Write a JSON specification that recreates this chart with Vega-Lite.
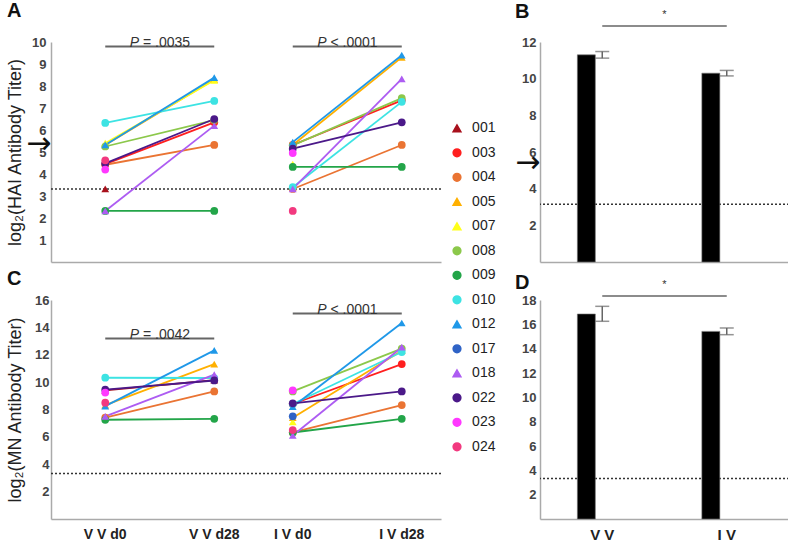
{
 "$schema": "https://vega.github.io/schema/vega-lite/v6.json",
 "padding": {"left": 6, "top": 0, "right": 0, "bottom": 0},
 "background": "white",
 "config": {
  "view": {"stroke": null},
  "font": "Liberation Sans",
  "axis": {"domainColor": "#aaaaaa", "domainWidth": 1.5, "ticks": false, "grid": false, "labelFontSize": 13, "labelFontWeight": "bold", "labelColor": "#444444", "titleFontWeight": "normal", "titleFontSize": 18, "titleColor": "#222222", "labelOverlap": false},
  "title": {"fontSize": 20, "fontWeight": "bold", "anchor": "start", "frame": "group", "color": "#111111"}
 },
 "datasets": {
  "obs": [
   {"assay":"HAI","group":"V V","day":"d0","subject":"001","value":3.32},
   {"assay":"HAI","group":"V V","day":"d0","subject":"003","value":4.45},
   {"assay":"HAI","group":"V V","day":"d28","subject":"003","value":6.35},
   {"assay":"HAI","group":"V V","day":"d0","subject":"004","value":4.42},
   {"assay":"HAI","group":"V V","day":"d28","subject":"004","value":5.32},
   {"assay":"HAI","group":"V V","day":"d0","subject":"005","value":5.32},
   {"assay":"HAI","group":"V V","day":"d28","subject":"005","value":8.3},
   {"assay":"HAI","group":"V V","day":"d0","subject":"007","value":5.4},
   {"assay":"HAI","group":"V V","day":"d28","subject":"007","value":8.26},
   {"assay":"HAI","group":"V V","day":"d0","subject":"008","value":5.25},
   {"assay":"HAI","group":"V V","day":"d28","subject":"008","value":6.45},
   {"assay":"HAI","group":"V V","day":"d0","subject":"009","value":2.32},
   {"assay":"HAI","group":"V V","day":"d28","subject":"009","value":2.32},
   {"assay":"HAI","group":"V V","day":"d0","subject":"010","value":6.32},
   {"assay":"HAI","group":"V V","day":"d28","subject":"010","value":7.32},
   {"assay":"HAI","group":"V V","day":"d0","subject":"012","value":5.32},
   {"assay":"HAI","group":"V V","day":"d28","subject":"012","value":8.38},
   {"assay":"HAI","group":"V V","day":"d0","subject":"018","value":2.32},
   {"assay":"HAI","group":"V V","day":"d28","subject":"018","value":6.2},
   {"assay":"HAI","group":"V V","day":"d0","subject":"022","value":4.48},
   {"assay":"HAI","group":"V V","day":"d28","subject":"022","value":6.5},
   {"assay":"HAI","group":"V V","day":"d0","subject":"023","value":4.2},
   {"assay":"HAI","group":"V V","day":"d0","subject":"024","value":4.62},
   {"assay":"HAI","group":"I V","day":"d0","subject":"003","value":5.32},
   {"assay":"HAI","group":"I V","day":"d28","subject":"003","value":7.35},
   {"assay":"HAI","group":"I V","day":"d0","subject":"004","value":3.32},
   {"assay":"HAI","group":"I V","day":"d28","subject":"004","value":5.32},
   {"assay":"HAI","group":"I V","day":"d0","subject":"005","value":5.32},
   {"assay":"HAI","group":"I V","day":"d28","subject":"005","value":9.3},
   {"assay":"HAI","group":"I V","day":"d0","subject":"007","value":4.45},
   {"assay":"HAI","group":"I V","day":"d0","subject":"008","value":5.3},
   {"assay":"HAI","group":"I V","day":"d28","subject":"008","value":7.45},
   {"assay":"HAI","group":"I V","day":"d0","subject":"009","value":4.32},
   {"assay":"HAI","group":"I V","day":"d28","subject":"009","value":4.32},
   {"assay":"HAI","group":"I V","day":"d0","subject":"010","value":3.4},
   {"assay":"HAI","group":"I V","day":"d28","subject":"010","value":7.28},
   {"assay":"HAI","group":"I V","day":"d0","subject":"012","value":5.45},
   {"assay":"HAI","group":"I V","day":"d28","subject":"012","value":9.4},
   {"assay":"HAI","group":"I V","day":"d0","subject":"018","value":3.32},
   {"assay":"HAI","group":"I V","day":"d28","subject":"018","value":8.32},
   {"assay":"HAI","group":"I V","day":"d0","subject":"022","value":5.15},
   {"assay":"HAI","group":"I V","day":"d28","subject":"022","value":6.35},
   {"assay":"HAI","group":"I V","day":"d0","subject":"023","value":4.95},
   {"assay":"HAI","group":"I V","day":"d0","subject":"024","value":2.32},
   {"assay":"MN","group":"V V","day":"d0","subject":"001","value":9.4},
   {"assay":"MN","group":"V V","day":"d28","subject":"001","value":10.15},
   {"assay":"MN","group":"V V","day":"d0","subject":"004","value":7.4},
   {"assay":"MN","group":"V V","day":"d28","subject":"004","value":9.32},
   {"assay":"MN","group":"V V","day":"d0","subject":"005","value":8.32},
   {"assay":"MN","group":"V V","day":"d28","subject":"005","value":11.32},
   {"assay":"MN","group":"V V","day":"d0","subject":"009","value":7.25},
   {"assay":"MN","group":"V V","day":"d28","subject":"009","value":7.32},
   {"assay":"MN","group":"V V","day":"d0","subject":"010","value":10.32},
   {"assay":"MN","group":"V V","day":"d28","subject":"010","value":10.3},
   {"assay":"MN","group":"V V","day":"d0","subject":"012","value":8.25},
   {"assay":"MN","group":"V V","day":"d28","subject":"012","value":12.32},
   {"assay":"MN","group":"V V","day":"d0","subject":"018","value":7.5},
   {"assay":"MN","group":"V V","day":"d28","subject":"018","value":10.55},
   {"assay":"MN","group":"V V","day":"d0","subject":"022","value":9.45},
   {"assay":"MN","group":"V V","day":"d28","subject":"022","value":10.12},
   {"assay":"MN","group":"V V","day":"d0","subject":"023","value":9.24},
   {"assay":"MN","group":"V V","day":"d0","subject":"024","value":8.5},
   {"assay":"MN","group":"I V","day":"d0","subject":"003","value":8.4},
   {"assay":"MN","group":"I V","day":"d28","subject":"003","value":11.32},
   {"assay":"MN","group":"I V","day":"d0","subject":"004","value":6.32},
   {"assay":"MN","group":"I V","day":"d28","subject":"004","value":8.32},
   {"assay":"MN","group":"I V","day":"d0","subject":"005","value":7.4},
   {"assay":"MN","group":"I V","day":"d28","subject":"005","value":12.3},
   {"assay":"MN","group":"I V","day":"d0","subject":"007","value":7.1},
   {"assay":"MN","group":"I V","day":"d0","subject":"008","value":9.32},
   {"assay":"MN","group":"I V","day":"d28","subject":"008","value":12.45},
   {"assay":"MN","group":"I V","day":"d0","subject":"009","value":6.32},
   {"assay":"MN","group":"I V","day":"d28","subject":"009","value":7.32},
   {"assay":"MN","group":"I V","day":"d0","subject":"010","value":8.4},
   {"assay":"MN","group":"I V","day":"d28","subject":"010","value":12.2},
   {"assay":"MN","group":"I V","day":"d0","subject":"012","value":8.2},
   {"assay":"MN","group":"I V","day":"d28","subject":"012","value":14.32},
   {"assay":"MN","group":"I V","day":"d0","subject":"017","value":7.5},
   {"assay":"MN","group":"I V","day":"d0","subject":"018","value":6.1},
   {"assay":"MN","group":"I V","day":"d28","subject":"018","value":12.55},
   {"assay":"MN","group":"I V","day":"d0","subject":"022","value":8.45},
   {"assay":"MN","group":"I V","day":"d28","subject":"022","value":9.32},
   {"assay":"MN","group":"I V","day":"d0","subject":"023","value":9.4},
   {"assay":"MN","group":"I V","day":"d0","subject":"024","value":6.5}
  ],
  "pairs": [{"group":"V V","day":"d0"},{"group":"V V","day":"d28"},{"group":"I V","day":"d0"},{"group":"I V","day":"d28"}],
  "ptxt": [
   {"panel":"A","group":"V V","rel":"= .0035"},
   {"panel":"A","group":"I V","rel":"< .0001"},
   {"panel":"C","group":"V V","rel":"= .0042"},
   {"panel":"C","group":"I V","rel":"< .0001"}
  ],
  "xlab": [
   {"group":"V V","day":"d0","label":"V V d0"},
   {"group":"V V","day":"d28","label":"V V d28"},
   {"group":"I V","day":"d0","label":"I V d0"},
   {"group":"I V","day":"d28","label":"I V d28"}
  ],
  "bars": [
   {"assay":"HAI","group":"V V","mean":11.3,"lo":11.12,"hi":11.48},
   {"assay":"HAI","group":"I V","mean":10.3,"lo":10.15,"hi":10.45},
   {"assay":"MN","group":"V V","mean":16.85,"lo":16.25,"hi":17.48},
   {"assay":"MN","group":"I V","mean":15.42,"lo":15.15,"hi":15.7}
  ]
 },
 "bounds": "flush",
 "columns": 2,
 "spacing": {"row": 38, "column": 99},
 "concat": [
  {"width": 390, "height": 220, "title": {"text": "A", "offset": 15, "dx": -44},
   "layer": [
    {"data": {"values": [{"ref": "LOD"}]}, "mark": {"type": "rule", "strokeDash": [2, 2], "strokeWidth": 1.5, "color": "#333333"}, "encoding": {"y": {"datum": 3.32}}},
    {"data": {"name": "obs"}, "transform": [{"filter": "datum.assay == 'HAI'"}],
     "mark": {"type": "line", "strokeWidth": 1.8},
     "encoding": {
      "x": {"field": "group", "type": "nominal", "sort": ["V V", "I V"], "scale": {"type": "band", "paddingInner": 0, "paddingOuter": 0.04, "align": 1}, "axis": {"labels": false, "title": null}},
      "xOffset": {"field": "day", "type": "nominal", "sort": ["d0", "d28"], "scale": {"type": "point", "padding": 0.36}},
      "y": {"field": "value", "type": "quantitative", "scale": {"domain": [0, 10]},
            "axis": {"values": [1, 2, 3, 4, 5, 5.4, 6, 7, 8, 9, 10], "tickCount": 30, "format": "d", "title": "log₂(HAI Antibody Titer)", "titlePadding": 0, "minExtent": 27, "maxExtent": 27, "labelOverlap": false,
                     "labelExpr": "datum.value == 5.4 ? '→' : datum.label",
                     "labelFont": {"condition": {"test": "datum.value == 5.4", "value": "DejaVu Sans"}, "value": "Liberation Sans"},
                     "labelFontSize": {"condition": {"test": "datum.value == 5.4", "value": 30}, "value": 13},
                     "labelFontWeight": {"condition": {"test": "datum.value == 5.4", "value": "normal"}, "value": "bold"},
                     "labelColor": {"condition": {"test": "datum.value == 5.4", "value": "#111111"}, "value": "#444444"},
                     "labelPadding": {"condition": {"test": "datum.value == 5.4", "value": 0}, "value": 5}}},
      "color": {"field": "subject", "type": "nominal",
                "scale": {"domain": ["001","003","004","005","007","008","009","010","012","017","018","022","023","024"], "range": ["#A8101C","#FF1F1F","#EA7433","#FFB000","#FFFF1A","#8CC84B","#23A549","#3DE3E3","#1F98E8","#2F63C6","#AD5CF2","#4B1989","#FF38FF","#F2397F"]},
                "legend": {"orient": "none", "legendX": 399, "legendY": 79.3, "title": null, "padding": 0, "labelFontSize": 14, "labelFontWeight": "normal", "labelColor": "#222222", "labelFont": "Liberation Sans", "rowPadding": 10.5, "symbolSize": 60, "labelOffset": 8.1, "symbolLimit": 0, "symbolOpacity": 1}},
      "detail": {"field": "group"}
     }},
    {"data": {"name": "obs"}, "transform": [{"filter": "datum.assay == 'HAI'"}],
     "mark": {"type": "point", "filled": true, "size": 60, "opacity": 1},
     "encoding": {
      "x": {"field": "group", "type": "nominal", "sort": ["V V", "I V"]},
      "xOffset": {"field": "day", "type": "nominal", "sort": ["d0", "d28"]},
      "y": {"field": "value", "type": "quantitative"},
      "color": {"field": "subject", "type": "nominal"},
      "shape": {"field": "subject", "type": "nominal", "scale": {"domain": ["001","003","004","005","007","008","009","010","012","017","018","022","023","024"], "range": ["triangle-up","circle","circle","triangle-up","triangle-up","circle","circle","circle","triangle-up","circle","triangle-up","circle","circle","circle"]}, "legend": null}
     }},
    {"data": {"name": "pairs"}, "mark": {"type": "line", "color": "#666666", "strokeWidth": 2},
     "encoding": {"x": {"field": "group", "type": "nominal", "sort": ["V V", "I V"]}, "xOffset": {"field": "day", "type": "nominal", "sort": ["d0", "d28"]}, "y": {"datum": 9.8}, "detail": {"field": "group"}}},
    {"data": {"name": "ptxt"}, "transform": [{"filter": "datum.panel == 'A'"}],
     "mark": {"type": "text", "text": "P", "fontStyle": "italic", "align": "left", "dx": -30, "fontSize": 14, "color": "#333333"},
     "encoding": {"x": {"field": "group", "type": "nominal", "sort": ["V V", "I V"]}, "y": {"datum": 9.97}}},
    {"data": {"name": "ptxt"}, "transform": [{"filter": "datum.panel == 'A'"}],
     "mark": {"type": "text", "align": "left", "dx": -16.8, "fontSize": 14, "color": "#333333"},
     "encoding": {"x": {"field": "group", "type": "nominal", "sort": ["V V", "I V"]}, "y": {"datum": 9.97}, "text": {"field": "rel"}}}
   ]},
  {"width": 249, "height": 220, "title": {"text": "B", "offset": -13, "dx": -25},
   "layer": [
    {"data": {"values": [{"ref": "LOD"}]}, "mark": {"type": "rule", "strokeDash": [2, 2], "strokeWidth": 1.5, "color": "#333333"}, "encoding": {"y": {"datum": 3.15}}},
    {"data": {"name": "bars"}, "transform": [{"filter": "datum.assay == 'HAI'"}],
     "mark": {"type": "bar", "color": "#000000", "stroke": "#777777", "strokeWidth": 0.6},
     "encoding": {
      "x": {"field": "group", "type": "nominal", "sort": ["V V", "I V"], "scale": {"type": "band", "paddingInner": 0.6, "paddingOuter": 0.3}, "axis": {"labels": false, "title": null}},
      "y": {"field": "mean", "type": "quantitative", "scale": {"domain": [0, 12]},
            "axis": {"values": [2, 4, 5.45, 6, 8, 10, 12], "tickCount": 30, "format": "d", "title": null, "labelOverlap": false,
                     "labelExpr": "datum.value == 5.45 ? '→' : datum.label",
                     "labelFont": {"condition": {"test": "datum.value == 5.45", "value": "DejaVu Sans"}, "value": "Liberation Sans"},
                     "labelFontSize": {"condition": {"test": "datum.value == 5.45", "value": 30}, "value": 13},
                     "labelFontWeight": {"condition": {"test": "datum.value == 5.45", "value": "normal"}, "value": "bold"},
                     "labelColor": {"condition": {"test": "datum.value == 5.45", "value": "#111111"}, "value": "#444444"},
                     "labelPadding": {"condition": {"test": "datum.value == 5.45", "value": 0}, "value": 4}}}
     }},
    {"data": {"name": "bars"}, "transform": [{"filter": "datum.assay == 'HAI'"}],
     "mark": {"type": "rule", "color": "#666666", "strokeWidth": 1.5},
     "encoding": {"x": {"field": "group", "type": "nominal", "sort": ["V V", "I V"]}, "y": {"field": "lo", "type": "quantitative", "title": null}, "y2": {"field": "hi"}}},
    {"data": {"name": "bars"}, "transform": [{"filter": "datum.assay == 'HAI'"}],
     "mark": {"type": "tick", "color": "#666666", "thickness": 1.5, "size": 14},
     "encoding": {"x": {"field": "group", "type": "nominal", "sort": ["V V", "I V"]}, "y": {"field": "lo", "type": "quantitative", "title": null}}},
    {"data": {"name": "bars"}, "transform": [{"filter": "datum.assay == 'HAI'"}],
     "mark": {"type": "tick", "color": "#666666", "thickness": 1.5, "size": 14},
     "encoding": {"x": {"field": "group", "type": "nominal", "sort": ["V V", "I V"]}, "y": {"field": "hi", "type": "quantitative", "title": null}}},
    {"data": {"name": "bars"}, "transform": [{"filter": "datum.assay == 'HAI'"}],
     "mark": {"type": "line", "color": "#666666", "strokeWidth": 1.5},
     "encoding": {"x": {"field": "group", "type": "nominal", "sort": ["V V", "I V"]}, "y": {"datum": 12.87}}},
    {"data": {"values": [{"sig": "*"}]},
     "mark": {"type": "text", "fontSize": 11, "color": "#333333", "baseline": "middle"},
     "encoding": {"y": {"datum": 13.45}, "text": {"field": "sig"}}}
   ]},
  {"width": 390, "height": 219, "title": {"text": "C", "offset": 5, "dx": -44},
   "layer": [
    {"data": {"values": [{"ref": "LOD"}]}, "mark": {"type": "rule", "strokeDash": [2, 2], "strokeWidth": 1.5, "color": "#333333"}, "encoding": {"y": {"datum": 3.32}}},
    {"data": {"name": "obs"}, "transform": [{"filter": "datum.assay == 'MN'"}],
     "mark": {"type": "line", "strokeWidth": 1.8},
     "encoding": {
      "x": {"field": "group", "type": "nominal", "sort": ["V V", "I V"], "scale": {"type": "band", "paddingInner": 0, "paddingOuter": 0.04, "align": 1}, "axis": {"labels": false, "title": null}},
      "xOffset": {"field": "day", "type": "nominal", "sort": ["d0", "d28"], "scale": {"type": "point", "padding": 0.36}},
      "y": {"field": "value", "type": "quantitative", "scale": {"domain": [0, 16]},
            "axis": {"values": [2, 4, 6, 8, 10, 12, 14, 16], "tickCount": 30, "format": "d", "title": "log₂(MN Antibody Titer)", "titlePadding": 0, "minExtent": 27, "maxExtent": 27, "labelOverlap": false}},
      "color": {"field": "subject", "type": "nominal"},
      "detail": {"field": "group"}
     }},
    {"data": {"name": "obs"}, "transform": [{"filter": "datum.assay == 'MN'"}],
     "mark": {"type": "point", "filled": true, "size": 60, "opacity": 1},
     "encoding": {
      "x": {"field": "group", "type": "nominal", "sort": ["V V", "I V"]},
      "xOffset": {"field": "day", "type": "nominal", "sort": ["d0", "d28"]},
      "y": {"field": "value", "type": "quantitative"},
      "color": {"field": "subject", "type": "nominal"},
      "shape": {"field": "subject", "type": "nominal", "legend": null}
     }},
    {"data": {"name": "pairs"}, "transform": [{"filter": "datum.group == 'V V'"}], "mark": {"type": "line", "color": "#666666", "strokeWidth": 2},
     "encoding": {"x": {"field": "group", "type": "nominal", "sort": ["V V", "I V"]}, "xOffset": {"field": "day", "type": "nominal", "sort": ["d0", "d28"]}, "y": {"datum": 13.19}, "detail": {"field": "group"}}},
    {"data": {"name": "pairs"}, "transform": [{"filter": "datum.group == 'I V'"}], "mark": {"type": "line", "color": "#666666", "strokeWidth": 2},
     "encoding": {"x": {"field": "group", "type": "nominal", "sort": ["V V", "I V"]}, "xOffset": {"field": "day", "type": "nominal", "sort": ["d0", "d28"]}, "y": {"datum": 15.02}, "detail": {"field": "group"}}},
    {"data": {"name": "ptxt"}, "transform": [{"filter": "datum.panel == 'C' && datum.group == 'V V'"}],
     "mark": {"type": "text", "text": "P", "fontStyle": "italic", "align": "left", "dx": -30, "fontSize": 14, "color": "#333333"},
     "encoding": {"x": {"field": "group", "type": "nominal", "sort": ["V V", "I V"]}, "y": {"datum": 13.44}}},
    {"data": {"name": "ptxt"}, "transform": [{"filter": "datum.panel == 'C' && datum.group == 'V V'"}],
     "mark": {"type": "text", "align": "left", "dx": -16.8, "fontSize": 14, "color": "#333333"},
     "encoding": {"x": {"field": "group", "type": "nominal", "sort": ["V V", "I V"]}, "y": {"datum": 13.44}, "text": {"field": "rel"}}},
    {"data": {"name": "ptxt"}, "transform": [{"filter": "datum.panel == 'C' && datum.group == 'I V'"}],
     "mark": {"type": "text", "text": "P", "fontStyle": "italic", "align": "left", "dx": -30, "fontSize": 14, "color": "#333333"},
     "encoding": {"x": {"field": "group", "type": "nominal", "sort": ["V V", "I V"]}, "y": {"datum": 15.27}}},
    {"data": {"name": "ptxt"}, "transform": [{"filter": "datum.panel == 'C' && datum.group == 'I V'"}],
     "mark": {"type": "text", "align": "left", "dx": -16.8, "fontSize": 14, "color": "#333333"},
     "encoding": {"x": {"field": "group", "type": "nominal", "sort": ["V V", "I V"]}, "y": {"datum": 15.27}, "text": {"field": "rel"}}},
    {"data": {"name": "xlab"},
     "mark": {"type": "text", "fontSize": 14, "fontWeight": "bold", "color": "#222222", "baseline": "middle"},
     "encoding": {"x": {"field": "group", "type": "nominal", "sort": ["V V", "I V"]}, "xOffset": {"field": "day", "type": "nominal", "sort": ["d0", "d28"]}, "y": {"datum": -1.17}, "text": {"field": "label"}}}
   ]},
  {"width": 249, "height": 219, "title": {"text": "D", "offset": -14, "dx": -25},
   "layer": [
    {"data": {"values": [{"ref": "LOD"}]}, "mark": {"type": "rule", "strokeDash": [2, 2], "strokeWidth": 1.5, "color": "#333333"}, "encoding": {"y": {"datum": 3.32}}},
    {"data": {"name": "bars"}, "transform": [{"filter": "datum.assay == 'MN'"}],
     "mark": {"type": "bar", "color": "#000000", "stroke": "#777777", "strokeWidth": 0.6},
     "encoding": {
      "x": {"field": "group", "type": "nominal", "sort": ["V V", "I V"], "scale": {"type": "band", "paddingInner": 0.6, "paddingOuter": 0.3}, "axis": {"title": null, "labelAngle": 0, "labelFontSize": 15, "labelColor": "#222222", "labelPadding": 8}},
      "y": {"field": "mean", "type": "quantitative", "scale": {"domain": [0, 18]},
            "axis": {"values": [2, 4, 6, 8, 10, 12, 14, 16, 18], "tickCount": 30, "format": "d", "title": null, "labelPadding": 4, "labelOverlap": false}}
     }},
    {"data": {"name": "bars"}, "transform": [{"filter": "datum.assay == 'MN'"}],
     "mark": {"type": "rule", "color": "#666666", "strokeWidth": 1.5},
     "encoding": {"x": {"field": "group", "type": "nominal", "sort": ["V V", "I V"]}, "y": {"field": "lo", "type": "quantitative", "title": null}, "y2": {"field": "hi"}}},
    {"data": {"name": "bars"}, "transform": [{"filter": "datum.assay == 'MN'"}],
     "mark": {"type": "tick", "color": "#666666", "thickness": 1.5, "size": 14},
     "encoding": {"x": {"field": "group", "type": "nominal", "sort": ["V V", "I V"]}, "y": {"field": "lo", "type": "quantitative", "title": null}}},
    {"data": {"name": "bars"}, "transform": [{"filter": "datum.assay == 'MN'"}],
     "mark": {"type": "tick", "color": "#666666", "thickness": 1.5, "size": 14},
     "encoding": {"x": {"field": "group", "type": "nominal", "sort": ["V V", "I V"]}, "y": {"field": "hi", "type": "quantitative", "title": null}}},
    {"data": {"name": "bars"}, "transform": [{"filter": "datum.assay == 'MN'"}],
     "mark": {"type": "line", "color": "#666666", "strokeWidth": 1.5},
     "encoding": {"x": {"field": "group", "type": "nominal", "sort": ["V V", "I V"]}, "y": {"datum": 18.33}}},
    {"data": {"values": [{"sig": "*"}]},
     "mark": {"type": "text", "fontSize": 11, "color": "#333333", "baseline": "middle"},
     "encoding": {"y": {"datum": 19.2}, "text": {"field": "sig"}}}
   ]}
 ]
}
